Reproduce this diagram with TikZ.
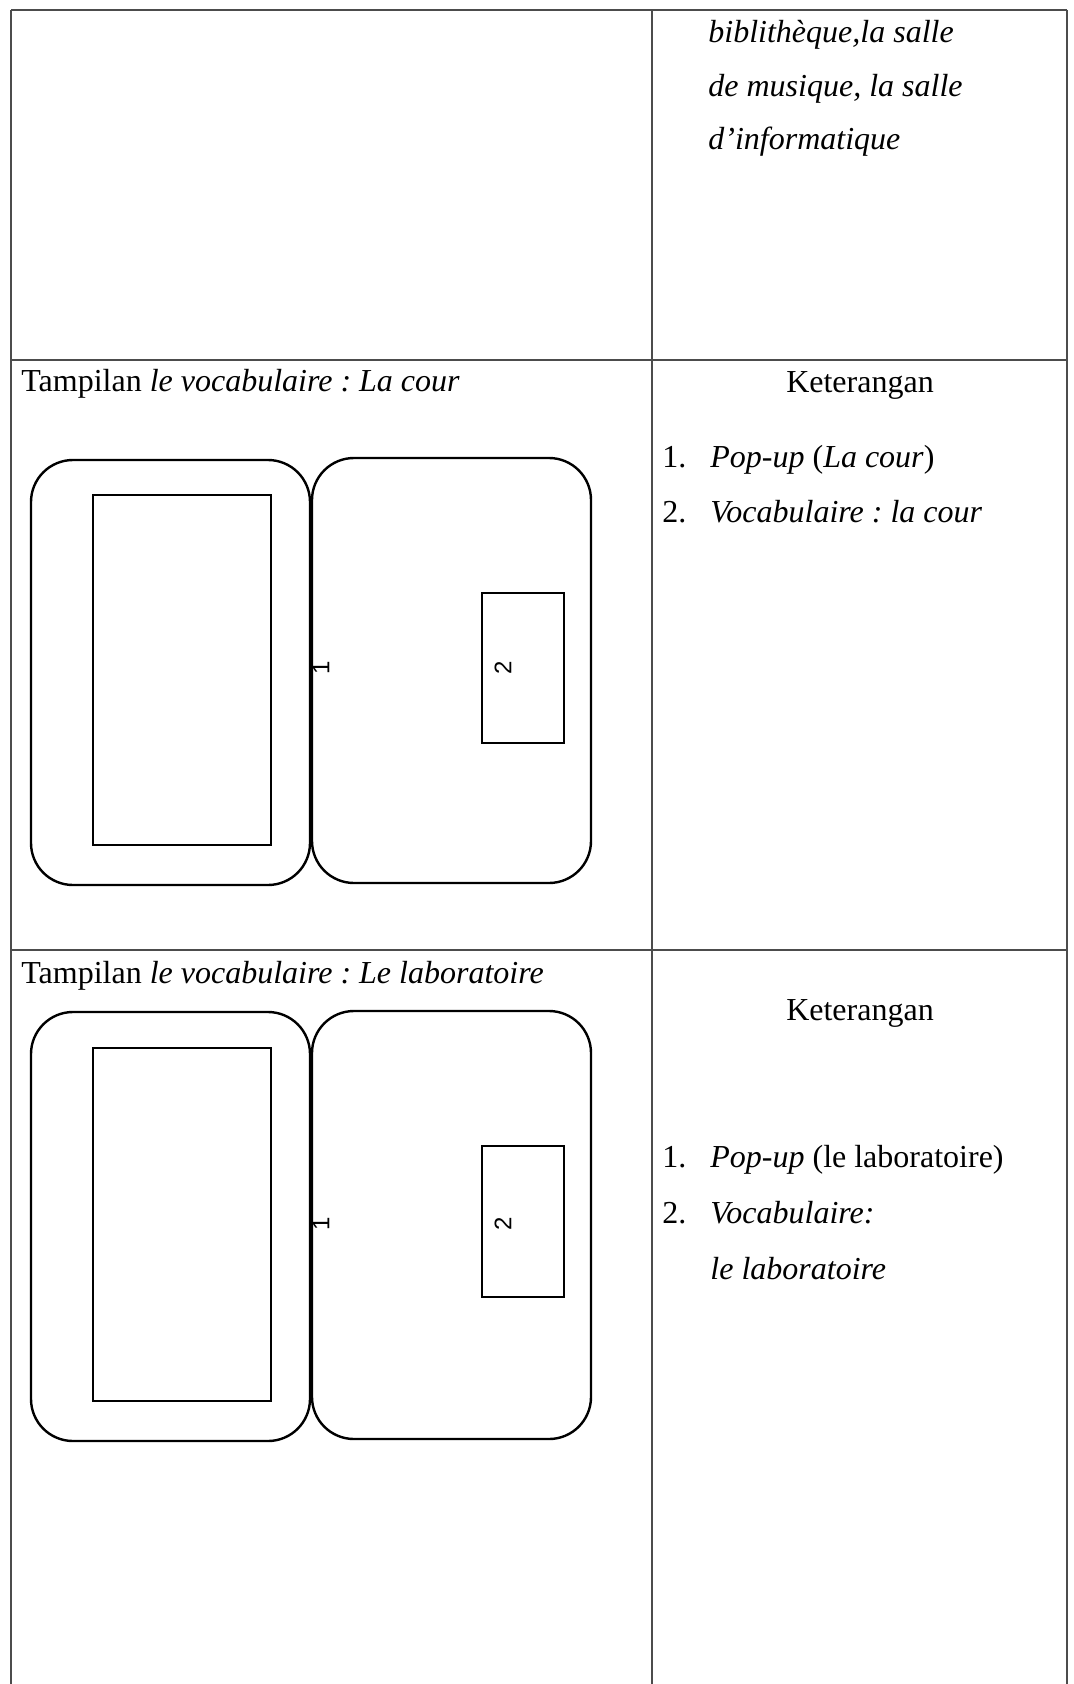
\documentclass[tikz,border=0pt]{standalone}
\usepackage{fontspec}
\setmainfont{Liberation Serif}
\newfontfamily\digitfont{Liberation Sans}
\frenchspacing
\begin{document}
\begin{tikzpicture}[x=0.5pt,y=-0.5pt,
  gridline/.style={draw=black!70, line width=0.9pt},
  device/.style={draw=black, line width=1.2pt, rounded corners=21pt},
  screen/.style={draw=black, line width=1.2pt, line cap=rect},
  txt/.style={inner sep=0pt, anchor=base west, font=\fontsize{16}{19}\selectfont},
  ctxt/.style={inner sep=0pt, anchor=base, font=\fontsize{16}{19}\selectfont},
  num/.style={inner sep=0pt, font=\digitfont\fontsize{12}{14}\selectfont, rotate=90}]
\useasboundingbox (0,0) rectangle (1074,1684);
\fill[white] (0,0) rectangle (1074,1684);
% table grid
\draw[gridline] (11,10) -- (1067,10);
\draw[gridline] (11,10) -- (11,1684);
\draw[gridline] (652,10) -- (652,1684);
\draw[gridline] (1067,10) -- (1067,1684);
\draw[gridline] (11,360) -- (1067,360);
\draw[gridline] (11,950) -- (1067,950);
% row 1 right
\node[txt] (r1a) at (708,43) {\itshape biblithèque,la salle};
\node[txt] (r1b) at (708,97) {\itshape de musique, la salle};
\node[txt] (r1c) at (708,150) {\itshape d’informatique};
% row 2
\node[txt] (t2) at (21,392) {Tampilan \textit{le vocabulaire : La cour}};
\node[ctxt] (k2) at (860,393) {Keterangan};
\node[txt] (n2a) at (662,467) {1.};
\node[txt] (i2a) at (710,467) {\textit{Pop-up} (\textit{La cour})};
\node[txt] (n2b) at (662,522) {2.};
\node[txt] (i2b) at (710,522) {\textit{Vocabulaire : la cour}};
\draw[device] (31,460) rectangle (310,885);
\draw[device] (312,458) rectangle (591,883);
\draw[screen] (93,495) rectangle (271,845);
\draw[screen] (482,593) rectangle (564,743);
\node[num] (one2) at (321,668) {1};
\node[num] (two2) at (503,668) {2};
% row 3
\node[txt] (t3) at (21,983) {Tampilan \textit{le vocabulaire : Le laboratoire}};
\node[ctxt] (k3) at (860,1020) {Keterangan};
\node[txt] (n3a) at (662,1167) {1.};
\node[txt] (i3a) at (710,1167) {\textit{Pop-up} (le laboratoire)};
\node[txt] (n3b) at (662,1223) {2.};
\node[txt] (i3b) at (710,1223) {\textit{Vocabulaire:}};
\node[txt] (i3c) at (710,1279) {\textit{le laboratoire}};
\draw[device] (31,1012) rectangle (310,1441);
\draw[device] (312,1011) rectangle (591,1439);
\draw[screen] (93,1048) rectangle (271,1401);
\draw[screen] (482,1146) rectangle (564,1297);
\node[num] (one3) at (321,1224) {1};
\node[num] (two3) at (503,1224) {2};
\end{tikzpicture}
\end{document}
